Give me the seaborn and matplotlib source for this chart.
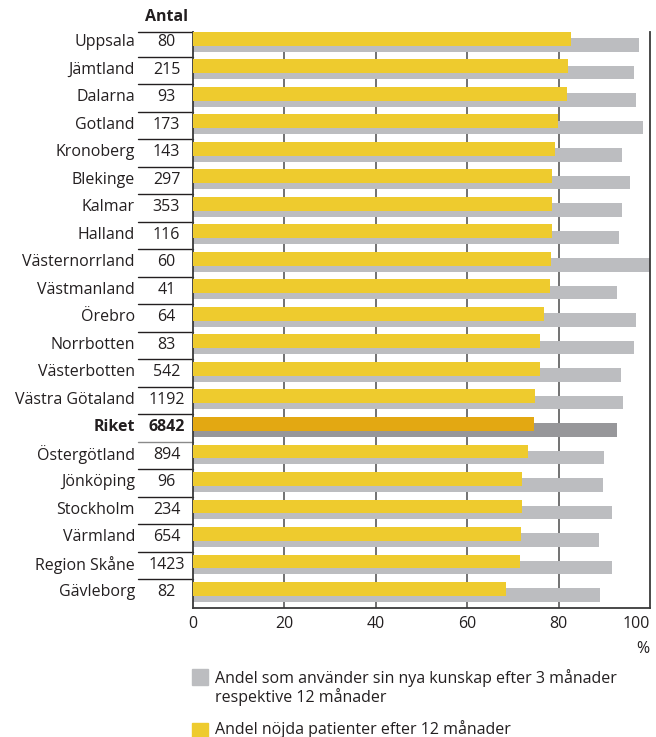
import matplotlib
matplotlib.use("Agg")
import matplotlib.pyplot as plt
import matplotlib.patches as mpatches
import seaborn as sns
import pandas as pd
import numpy as np

regions = ["Uppsala", "Jämtland", "Dalarna", "Gotland", "Kronoberg", "Blekinge",
           "Kalmar", "Halland", "Västernorrland", "Västmanland", "Örebro",
           "Norrbotten", "Västerbotten", "Västra Götaland", "Riket",
           "Östergötland", "Jönköping", "Stockholm", "Värmland",
           "Region Skåne", "Gävleborg"]
antal = [80, 215, 93, 173, 143, 297, 353, 116, 60, 41, 64, 83, 542, 1192,
         6842, 894, 96, 234, 654, 1423, 82]
nojda = [82.7, 82.1, 81.8, 79.9, 79.2, 78.6, 78.6, 78.6, 78.3, 78.1, 76.8,
         75.9, 75.9, 74.8, 74.6, 73.3, 72.0, 72.0, 71.8, 71.6, 68.5]
kunskap = [97.6, 96.5, 96.9, 98.5, 93.9, 95.6, 93.9, 93.2, 100.0, 92.8, 96.9,
           96.5, 93.7, 94.1, 92.8, 89.9, 89.7, 91.7, 88.8, 91.7, 89.1]
xticks = [0, 20, 40, 60, 80, 100]

total_label = "Riket"
yellow, yellow_dark = "#EECB2E", "#E3A812"
grey, grey_dark = "#BCBDC0", "#97979A"
text_col = "#231F20"
fs = 11.5

sns.set_theme(style="white")
plt.rcParams["font.family"] = ["Open Sans", "DejaVu Sans"]

pos = np.arange(len(regions))
df = pd.DataFrame({"region": regions, "pos": pos,
                   "nojda": nojda, "kunskap": kunskap})
is_total = [r == total_label for r in regions]

fig = plt.figure(figsize=(6.56, 7.37), dpi=100)
ax = fig.add_axes([193 / 656, 1 - 608 / 737, 457 / 656, 576 / 737])

# grey bars sit slightly below, yellow bars on top
sns.barplot(data=df.assign(p=df["pos"] + 0.11), x="kunskap", y="p",
            orient="h", native_scale=True, width=0.5, color=grey,
            saturation=1, ax=ax, zorder=2)
sns.barplot(data=df.assign(p=df["pos"] - 0.115), x="nojda", y="p",
            orient="h", native_scale=True, width=0.5, color=yellow,
            saturation=1, ax=ax, zorder=3)

n = len(regions)
for patch in ax.patches[:n]:
    cy = patch.get_y() + patch.get_height() / 2
    if is_total[int(round(cy - 0.11))]:
        patch.set_facecolor(grey_dark)
for patch in ax.patches[n:]:
    cy = patch.get_y() + patch.get_height() / 2
    if is_total[int(round(cy + 0.115))]:
        patch.set_facecolor(yellow_dark)
for patch in ax.patches:
    patch.set_edgecolor("none")

ax.set_xlim(0, 100)
ax.set_ylim(20.58, -0.364)
ax.set_xticks(xticks)
ax.set_xticklabels([str(t) for t in xticks], fontsize=fs, color=text_col)
ax.get_xticklabels()[-1].set_horizontalalignment("right")
ax.set_yticks([])
ax.set_xlabel("")
ax.set_ylabel("")
ax.tick_params(axis="x", length=0, pad=6)

for x in xticks[1:-1]:
    ax.axvline(x, color="#5a5a5a", lw=1.2, zorder=1)

ax.spines["top"].set_visible(False)
for side in ["left", "bottom", "right"]:
    ax.spines[side].set_color("#3a3a3a")
    ax.spines[side].set_linewidth(1.3)

# table of counts to the left of the bars
tr = ax.get_yaxis_transform()
for i, (name, count) in enumerate(zip(regions, antal)):
    weight = "bold" if is_total[i] else "normal"
    ax.text(-0.127, i, name, transform=tr, ha="right", va="center",
            fontsize=fs, color=text_col, fontweight=weight, clip_on=False)
    ax.text(-0.058, i, str(count), transform=tr, ha="center", va="center",
            fontsize=fs, color=text_col, fontweight=weight, clip_on=False)

ax.text(-0.058, -0.364 - 0.55, "Antal", transform=tr, ha="center",
        va="center", fontsize=fs, color=text_col, fontweight="bold",
        clip_on=False)

line_x0 = -0.121
ax.plot([line_x0, 0], [-0.364, -0.364], transform=tr, color=text_col,
        lw=1.0, clip_on=False)
for i in range(n - 1):
    col = "#8a8a8a" if is_total[i] else text_col
    ax.plot([line_x0, 0], [i + 0.53, i + 0.53], transform=tr, color=col,
            lw=1.0, clip_on=False)

fig.text(649 / 656, 1 - 649 / 737, "%", ha="right", va="center",
         fontsize=fs, color=text_col)

# legend
fig.patches.append(mpatches.Rectangle((192 / 656, 1 - 685 / 737), 16 / 656,
                                      16 / 737, transform=fig.transFigure,
                                      color=grey))
fig.text(215 / 656, 1 - 678 / 737,
         "Andel som använder sin nya kunskap efter 3 månader",
         ha="left", va="center", fontsize=fs, color=text_col)
fig.text(215 / 656, 1 - 697 / 737, "respektive 12 månader",
         ha="left", va="center", fontsize=fs, color=text_col)
fig.patches.append(mpatches.Rectangle((192 / 656, 1 - 739 / 737), 16 / 656,
                                      16 / 737, transform=fig.transFigure,
                                      color=yellow))
fig.text(215 / 656, 1 - 729 / 737, "Andel nöjda patienter efter 12 månader",
         ha="left", va="center", fontsize=fs, color=text_col)

fig.savefig("out.png", dpi=100, facecolor="white")
